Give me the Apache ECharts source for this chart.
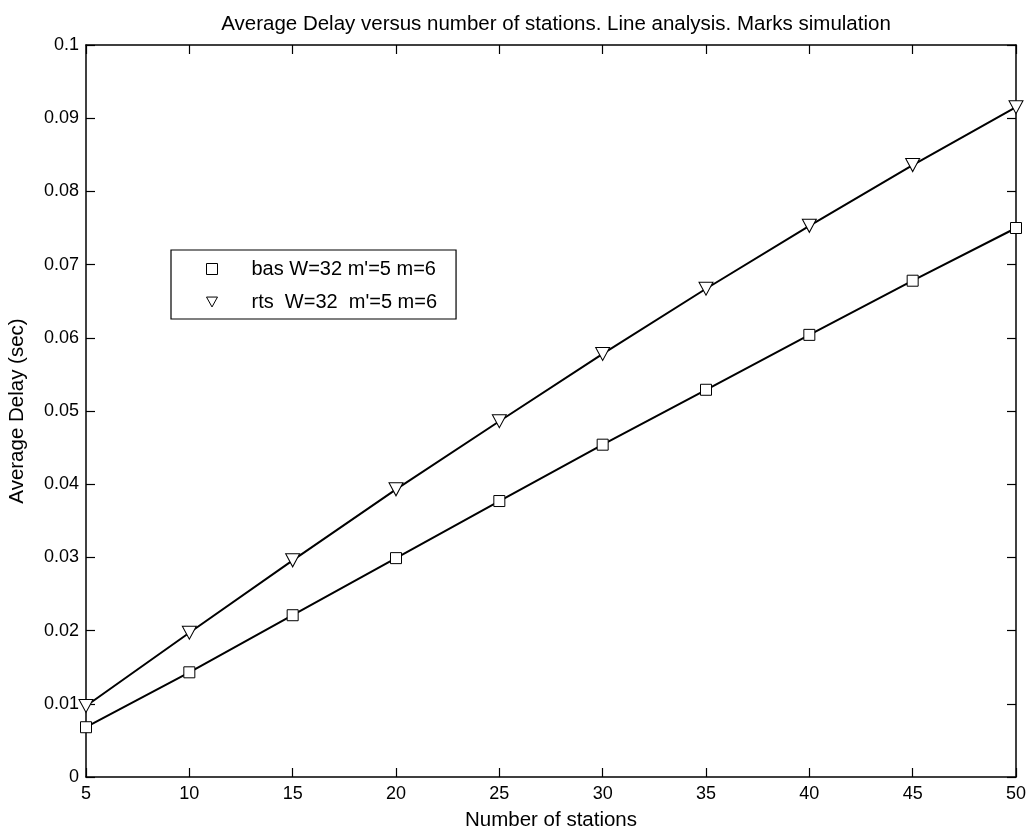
<!DOCTYPE html>
<html><head><meta charset="utf-8">
<script src="https://cdn.jsdelivr.net/npm/echarts@6/dist/echarts.min.js"></script>
<style>html,body{margin:0;padding:0;background:#fff}#c{width:1027px;height:828px}</style>
</head><body><div id="c"></div>
<script>
const stations = [5,10,15,20,25,30,35,40,45,50];
const basDelay = [0.0068,0.0143,0.0221,0.0299,0.0377,0.0454,0.0529,0.0604,0.0678,0.0750];
const rtsDelay = [0.0097,0.0197,0.0296,0.0393,0.0486,0.0578,0.0667,0.0753,0.0836,0.0915];
const xTicks = [5,10,15,20,25,30,35,40,45,50];
const yTicks = [0,0.01,0.02,0.03,0.04,0.05,0.06,0.07,0.08,0.09,0.1];

const tri = 'path://M0,0 L10,0 L5,9 Z';
const font = 'Liberation Sans, Arial, sans-serif';
const chart = echarts.init(document.getElementById('c'), null, {renderer:'canvas'});
const axisCommon = {
  axisLine:{show:true, onZero:false, lineStyle:{color:'#000', width:1.5}},
  axisTick:{show:true, inside:true, length:9, lineStyle:{color:'#000', width:1.2}},
  splitLine:{show:false}
};
chart.setOption({
  animation:false,
  backgroundColor:'#fff',
  title:{text:'Average Delay versus number of stations. Line analysis. Marks simulation', left:551, top:9, textAlign:'center',
    textStyle:{fontFamily:font, fontSize:20.5, fontWeight:'normal', color:'#000'}},
  grid:{left:86, right:11, top:45, bottom:51, containLabel:false, outerBoundsMode:'none'},
  legend:{
    orient:'vertical', left:171, top:250, itemWidth:11, itemHeight:11, itemGap:13,
    padding:[9,19,7,35], borderColor:'#000', borderWidth:1.2, backgroundColor:'#fff',
    textStyle:{fontFamily:font, fontSize:20, lineHeight:20, color:'#000', padding:[0,0,0,29]},
    data:[
      {name:"bas W=32 m'=5 m=6", icon:'rect', itemStyle:{color:'#fff', borderColor:'#000', borderWidth:1}},
      {name:"rts  W=32  m'=5 m=6", icon:tri, itemStyle:{color:'#fff', borderColor:'#000', borderWidth:1}}
    ]
  },
  xAxis:[
    Object.assign({type:'value', min:5, max:50, interval:5, position:'bottom',
      name:'Number of stations', nameLocation:'middle', nameGap:33,
      nameTextStyle:{fontFamily:font, fontSize:20.5, color:'#000'},
      axisLabel:{fontFamily:font, fontSize:18, color:'#000', margin:8, formatter:v=>xTicks.includes(v)?String(v):''}}, axisCommon),
    Object.assign({type:'value', min:5, max:50, interval:5, position:'top', axisLabel:{show:false}}, axisCommon)
  ],
  yAxis:[
    Object.assign({type:'value', min:0, max:0.1, interval:0.01, position:'left',
      name:'Average Delay (sec)', nameLocation:'middle', nameGap:58,
      nameTextStyle:{fontFamily:font, fontSize:20.5, color:'#000'},
      axisLabel:{fontFamily:font, fontSize:18, color:'#000', margin:7,
        formatter:v=>{const t=yTicks.find(y=>Math.abs(y-v)<1e-9); return t===undefined?'':String(+t.toFixed(2));}}}, axisCommon),
    Object.assign({type:'value', min:0, max:0.1, interval:0.01, position:'right', axisLabel:{show:false}}, axisCommon)
  ],
  series:[
    {name:"bas W=32 m'=5 m=6", type:'line', data:stations.map((s,i)=>[s,basDelay[i]]),
      symbol:'rect', symbolSize:11, showAllSymbol:true,
      lineStyle:{color:'#000', width:2},
      itemStyle:{color:'#fff', borderColor:'#000', borderWidth:1}},
    {name:"rts  W=32  m'=5 m=6", type:'line', data:stations.map((s,i)=>[s,rtsDelay[i]]),
      symbol:tri, symbolSize:[14,13], showAllSymbol:true,
      lineStyle:{color:'#000', width:2},
      itemStyle:{color:'#fff', borderColor:'#000', borderWidth:1}}
  ]
});
</script></body></html>
